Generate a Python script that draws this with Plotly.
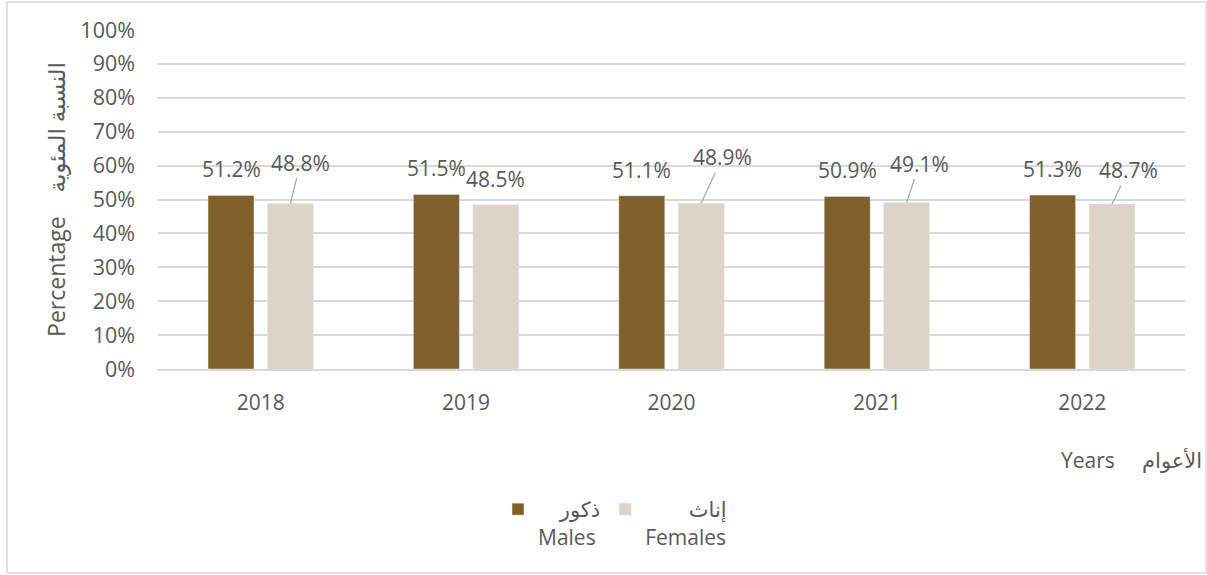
import plotly.graph_objects as go

years = ["2018", "2019", "2020", "2021", "2022"]
males = [51.2, 51.5, 51.1, 50.9, 51.3]
females = [48.8, 48.5, 48.9, 49.1, 48.7]
y_ticks = [0, 10, 20, 30, 40, 50, 60, 70, 80, 90, 100]
y_tick_labels = [f"{v}%" for v in y_ticks]

male_name = "\u00a0\u00a0\u00a0\u00a0ذكور<br>Males"
female_name = "\u00a0\u00a0\u00a0\u00a0\u00a0\u00a0\u00a0\u00a0إناث<br>Females"

# label style offsets (pixels): (dx, dy, leader line)
female_label_style = [(10, -41, True), (0, -25.6, False), (21, -46, True), (13, -39, True), (16.5, -34, True)]

TXT = "#595959"
FONT = "Open Sans, DejaVu Sans, sans-serif"
BAR_OFF = 29.7

fig = go.Figure()
fig.add_trace(go.Bar(x=years, y=males, name=male_name, marker_color="#7F5F2A",
                     hoverinfo="x+y"))
fig.add_trace(go.Bar(x=years, y=females, name=female_name, marker_color="#DDD3C7",
                     hoverinfo="x+y"))

annotations = []
for i, v in enumerate(males):
    annotations.append(dict(x=i, y=v, xref="x", yref="y", text=f"{v}%",
                            showarrow=False, xshift=-BAR_OFF, yshift=26,
                            xanchor="center", yanchor="middle",
                            font=dict(size=21, color=TXT, family=FONT)))
for i, (v, (dx, dy, leader)) in enumerate(zip(females, female_label_style)):
    if leader:
        annotations.append(dict(x=i, y=v, xref="x", yref="y", text=f"{v}%",
                                showarrow=True, arrowhead=0, arrowwidth=1.2,
                                arrowcolor="#A6A6A6", ax=dx, ay=dy, standoff=0,
                                xshift=BAR_OFF,
                                font=dict(size=21, color=TXT, family=FONT)))
    else:
        annotations.append(dict(x=i, y=v, xref="x", yref="y", text=f"{v}%",
                                showarrow=False, xshift=BAR_OFF + dx, yshift=-dy,
                                xanchor="center", yanchor="middle",
                                font=dict(size=21, color=TXT, family=FONT)))

annotations.append(dict(x=1.0185, y=-0.268, xref="paper", yref="paper",
                        text="Years\u00a0\u00a0\u00a0\u00a0\u00a0الأعوام", showarrow=False,
                        xanchor="right", yanchor="middle",
                        font=dict(size=21, color=TXT, family=FONT)))

fig.update_layout(
    width=1207, height=575,
    margin=dict(l=158, r=22, t=30, b=206),
    paper_bgcolor="white", plot_bgcolor="white",
    barmode="group", bargap=0.4216, bargroupgap=0.2256,
    font=dict(family=FONT, color=TXT, size=20),
    showlegend=True,
    legend=dict(orientation="h", x=0.445, xanchor="center", y=-0.354, yanchor="top",
                font=dict(size=21, color=TXT, family=FONT), valign="top",
                traceorder="normal", itemclick=False),
    annotations=annotations,
    shapes=[dict(type="rect", xref="paper", yref="paper", x0=-0.147, x1=1.0205,
                 y0=-0.6018, y1=1.0826, line=dict(color="#D9D9D9", width=1.5),
                 fillcolor="rgba(0,0,0,0)", layer="below")],
)
fig.update_xaxes(type="category", range=[-0.5, len(years) - 0.5], autorange=False,
                 showgrid=False, showline=True, linecolor="#D9D9D9",
                 linewidth=1.5, ticks="", ticklabelstandoff=14,
                 tickfont=dict(size=21, color=TXT, family=FONT))
fig.update_yaxes(range=[0, 100], autorange=False, tickvals=y_ticks, ticktext=y_tick_labels,
                 showgrid=True, gridcolor="#D9D9D9", gridwidth=1.5, zeroline=False,
                 showline=False, ticks="", ticklabelstandoff=22,
                 tickfont=dict(size=21.5, color=TXT, family=FONT),
                 title=dict(text="Percentage\u00a0\u00a0\u00a0\u00a0النسبة المئوية",
                            font=dict(size=23, color=TXT, family=FONT), standoff=8))

fig.write_html("out.html", config={"displayModeBar": False},
               post_script="document.body.style.margin='0px';")
